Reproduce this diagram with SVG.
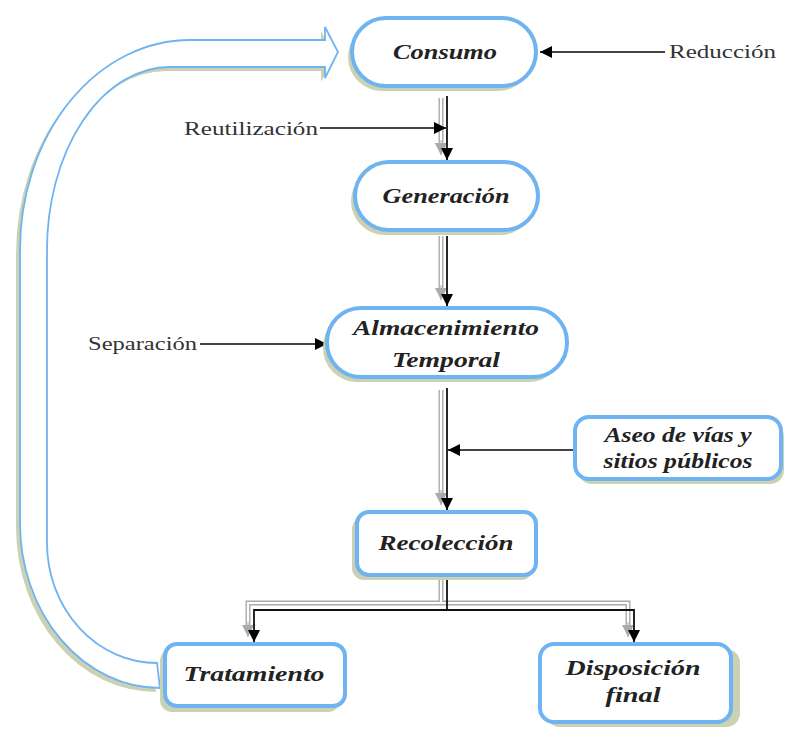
<svg xmlns="http://www.w3.org/2000/svg" width="787" height="730" viewBox="0 0 787 730">
<style>
.sh{fill:#cbd2b3;stroke:none}
.nd{fill:#fff;stroke:#6fb3f0;stroke-width:4}
.t{font-family:"Liberation Serif","Times New Roman",serif;font-style:italic;font-weight:bold;font-size:21px;fill:#222;text-anchor:middle}
.lb{font-family:"Liberation Serif","Times New Roman",serif;font-size:18px;fill:#333}
.bk{stroke:#111;stroke-width:1.8;fill:none}
.gy{stroke:#aaa;stroke-width:5;fill:none}
.gw{stroke:#fff;stroke-width:2.2;fill:none}
.ln{stroke:#444;stroke-width:2;fill:none}
</style>
<defs>
<marker id="ah" viewBox="0 0 12 12" refX="12" refY="6" markerWidth="12" markerHeight="12" orient="auto" markerUnits="userSpaceOnUse"><path d="M0,0 L12,6 L0,12 z" fill="#000"/></marker>
<marker id="ag" viewBox="0 0 12 12" refX="12" refY="6" markerWidth="12" markerHeight="12" orient="auto" markerUnits="userSpaceOnUse"><path d="M0,0 L12,6 L0,12 z" fill="#aaa"/></marker>
</defs>

<g id="loop-arrow">
<path transform="translate(-4,4)" class="sh" d="M160,688 A140,165 0 0 1 20,523 L20,250 A170,210 0 0 1 190,40 L325,40 L325,27 L338,52 L325,78 L325,67 L170,67 A123,183 0 0 0 47,250 L47,543 A110,120 0 0 0 157,663 Z"/>
<path d="M160,688 A140,165 0 0 1 20,523 L20,250 A170,210 0 0 1 190,40 L325,40 L325,27 L338,52 L325,78 L325,67 L170,67 A123,183 0 0 0 47,250 L47,543 A110,120 0 0 0 157,663 Z" fill="#fff" stroke="#6fb3f0" stroke-width="1.8"/>
</g>

<g id="connectors">
<!-- gray shadow lines -->
<path class="gy" d="M441,98 V146 M441,236 V292 M441,390 V497 M441,578 V603 H248 V630 M441,603 H628 V630"/>
<path class="gw" d="M441,98 V146 M441,236 V292 M441,390 V497 M441,578 V603 H248 V630 M441,603 H628 V630"/>
<path d="M441,98 V155" stroke="none" fill="none" marker-end="url(#ag)"/>
<line x1="441" y1="140" x2="441" y2="155" stroke="#aaa" stroke-width="1" marker-end="url(#ag)"/>
<line x1="441" y1="285" x2="441" y2="300" stroke="#aaa" stroke-width="1" marker-end="url(#ag)"/>
<line x1="441" y1="490" x2="441" y2="505" stroke="#aaa" stroke-width="1" marker-end="url(#ag)"/>
<line x1="248" y1="622" x2="248" y2="637" stroke="#aaa" stroke-width="1" marker-end="url(#ag)"/>
<line x1="628" y1="622" x2="628" y2="637" stroke="#aaa" stroke-width="1" marker-end="url(#ag)"/>
<!-- black main lines -->
<line class="bk" x1="447" y1="96" x2="447" y2="160" marker-end="url(#ah)"/>
<line class="bk" x1="447" y1="236" x2="447" y2="306" marker-end="url(#ah)"/>
<line class="bk" x1="447" y1="388" x2="447" y2="510" marker-end="url(#ah)"/>
<path class="bk" d="M447,578 V610"/>
<path class="bk" d="M447,610 H254 V642" marker-end="url(#ah)"/>
<path class="bk" d="M447,610 H634 V642" marker-end="url(#ah)"/>
<!-- side inputs -->
<line class="ln" x1="320" y1="128" x2="446" y2="128" marker-end="url(#ah)"/>
<line class="ln" x1="665" y1="52" x2="540" y2="52" marker-end="url(#ah)"/>
<line class="ln" x1="200" y1="344" x2="327" y2="344" marker-end="url(#ah)"/>
<line class="ln" x1="573" y1="450" x2="448" y2="450" marker-end="url(#ah)"/>
</g>

<g id="consumo">
<rect class="sh" x="348" y="23" width="184" height="68" rx="34"/>
<rect class="nd" x="352" y="18" width="184" height="68" rx="34"/>
<text class="t" x="445" y="59" textLength="104" lengthAdjust="spacingAndGlyphs">Consumo</text>
</g>

<g id="generacion">
<rect class="sh" x="351" y="167" width="183" height="68" rx="34"/>
<rect class="nd" x="355" y="162" width="183" height="68" rx="34"/>
<text class="t" x="446" y="203" textLength="127" lengthAdjust="spacingAndGlyphs">Generación</text>
</g>

<g id="almacenimiento">
<rect class="sh" x="323" y="313" width="240" height="69" rx="34"/>
<rect class="nd" x="327" y="308" width="240" height="69" rx="34"/>
<text class="t" x="446" y="335" textLength="186" lengthAdjust="spacingAndGlyphs">Almacenimiento</text>
<text class="t" x="446" y="367" textLength="108" lengthAdjust="spacingAndGlyphs">Temporal</text>
</g>

<g id="aseo">
<rect class="sh" x="578" y="423" width="206" height="61" rx="14"/>
<rect class="nd" x="575" y="417" width="206" height="62" rx="14"/>
<text class="t" x="678" y="442" textLength="147" lengthAdjust="spacingAndGlyphs">Aseo de vías y</text>
<text class="t" x="678" y="468" textLength="149" lengthAdjust="spacingAndGlyphs">sitios públicos</text>
</g>

<g id="recoleccion">
<rect class="sh" x="352" y="517" width="181" height="63" rx="12"/>
<rect class="nd" x="357" y="512" width="179" height="63" rx="12"/>
<text class="t" x="446" y="550" textLength="135" lengthAdjust="spacingAndGlyphs">Recolección</text>
</g>

<g id="tratamiento">
<rect class="sh" x="160" y="649" width="180" height="63" rx="12"/>
<rect class="nd" x="165" y="644" width="180" height="62" rx="12"/>
<text class="t" x="254" y="681" textLength="141" lengthAdjust="spacingAndGlyphs">Tratamiento</text>
</g>

<g id="disposicion">
<rect class="sh" x="546" y="649" width="194" height="78" rx="14"/>
<rect class="nd" x="540" y="644" width="191" height="78" rx="14"/>
<text class="t" x="633" y="675" textLength="135" lengthAdjust="spacingAndGlyphs">Disposición</text>
<text class="t" x="633" y="702" textLength="55" lengthAdjust="spacingAndGlyphs">final</text>
</g>

<g id="labels">
<text class="lb" x="184" y="135" textLength="134" lengthAdjust="spacingAndGlyphs">Reutilización</text>
<text class="lb" x="669" y="58" textLength="107" lengthAdjust="spacingAndGlyphs">Reducción</text>
<text class="lb" x="88" y="350" textLength="109" lengthAdjust="spacingAndGlyphs">Separación</text>
</g>
</svg>
